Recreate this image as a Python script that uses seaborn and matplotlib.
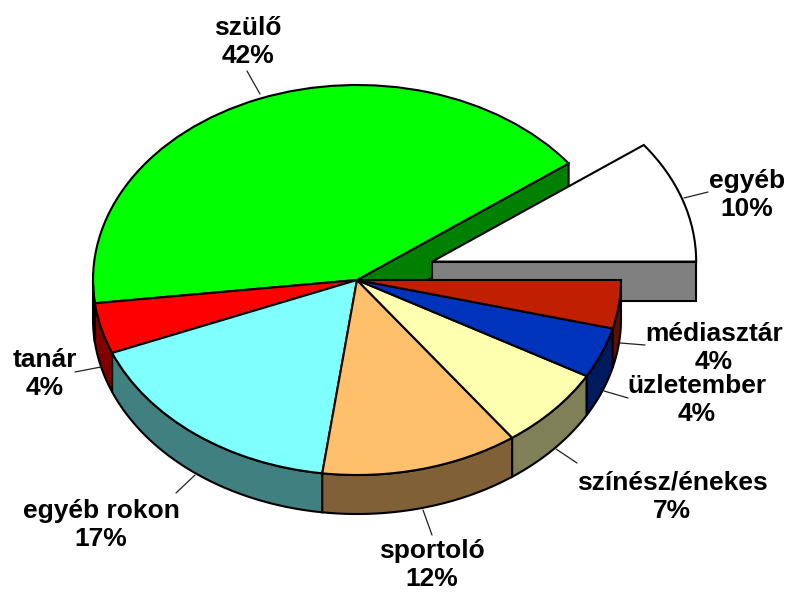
"""
Exploded 3D style pie of role models. The tilt is faked: ax.pie is drawn in a squashed
axes and the rim / cut faces are added underneath as polygons.
"""

import numpy as np
import seaborn as sns
import matplotlib.pyplot as plt
from matplotlib.colors import to_rgb

names = ['egyéb', 'szülő', 'tanár', 'egyéb rokon', 'sportoló', 'színész/énekes', 'üzletember', 'médiasztár']
shares = [10.2, 41.7, 4.2, 16.8, 12.1, 6.8, 4.2, 4.0]
pct_labels = ['10%', '42%', '4%', '17%', '12%', '7%', '4%', '4%']
colours = ['#FFFFFF', '#00FF00', '#FF0000', '#80FFFF', '#FFC06C', '#FFFFB0', '#0033BB', '#C02000']

W, H = 785, 592
CX, CY = 357, 280     # pie centre in pixels
RX, RY = 264, 195     # pixels per unit of radius
DEPTH = 39 / RY

# label centre and leader line, in pixels of the image
label_pos = [(747, 195), (248, 42), (45, 374), (101, 525), (432, 565), (672, 497), (697, 400), (714, 348)]
leaders = [((684, 198), (708, 192)), ((260, 94), (247, 71)), ((101, 367), (75, 372)), ((195, 475), (176, 493)),
           ((423, 510), (432, 535)), ((556, 449), (577, 463)), ((604, 391), (628, 398)), ((620, 343), (645, 345))]

sns.set_theme(style='white')
plt.rcParams['font.family'] = ['Liberation Sans', 'DejaVu Sans']


def to_data(x, y):
    return (x - CX) / RX, (CY - y) / RY


def side_colour(c):
    return tuple(np.array(to_rgb(c)) * 0.5)


def cut_face(wedge, angle, colour, z):
    # flat face of a slice, from the centre to the rim and down by the depth
    x0, y0 = wedge.center
    x1, y1 = x0 + np.cos(np.radians(angle)), y0 + np.sin(np.radians(angle))
    ax.fill([x0, x1, x1, x0], [y0, y1, y1 - DEPTH, y0 - DEPTH], facecolor=colour,
            edgecolor='black', linewidth=1.5, zorder=z, joinstyle='miter')


def rim(wedge, colour, z):
    # outer wall of a slice, only the front half of the pie shows
    a0, a1 = max(wedge.theta1, 180), min(wedge.theta2, 360)
    if a1 <= a0:
        return
    t = np.radians(np.linspace(a0, a1, 80))
    x = wedge.center[0] + np.cos(t)
    y = wedge.center[1] + np.sin(t)
    ax.fill(np.r_[x, x[::-1]], np.r_[y, y[::-1] - DEPTH], facecolor=colour,
            edgecolor='black', linewidth=1.5, zorder=z)


fig, ax = plt.subplots(figsize=(W / 100, H / 100), dpi=100)
fig.subplots_adjust(0, 0, 1, 1)

explode = [0.30] + [0] * (len(shares) - 1)
wedges, _ = ax.pie(shares, colors=colours, explode=explode, startangle=0, counterclock=True,
                   wedgeprops=dict(edgecolor='black', linewidth=1.5))

# painter's order: green cut face, exploded slice, then the front of the pie
cut_face(wedges[1], wedges[1].theta1, side_colour(colours[1]), 1)
wedges[1].set_zorder(2)
cut_face(wedges[0], wedges[0].theta1, side_colour('#FFFFFF'), 3)
wedges[0].set_zorder(4)
for w, c in zip(wedges[1:], colours[1:]):
    rim(w, side_colour(c), 5)
    if w is not wedges[1]:
        w.set_zorder(6)

for (p0, p1) in leaders:
    x0, y0 = to_data(*p0)
    x1, y1 = to_data(*p1)
    ax.plot([x0, x1], [y0, y1], color='#222222', linewidth=0.9, zorder=7)

for name, pct, (px, py) in zip(names, pct_labels, label_pos):
    x, y = to_data(px, py)
    ax.text(x, y, name + '\n' + pct, ha='center', va='center', fontsize=19, fontweight='bold',
            color='black', linespacing=1.25, zorder=8)

ax.set_xlim(-CX / RX, (W - CX) / RX)
ax.set_ylim(-(H - CY) / RY, CY / RY)
ax.set_aspect('auto')
ax.axis('off')

fig.savefig('out.png', dpi=100)
